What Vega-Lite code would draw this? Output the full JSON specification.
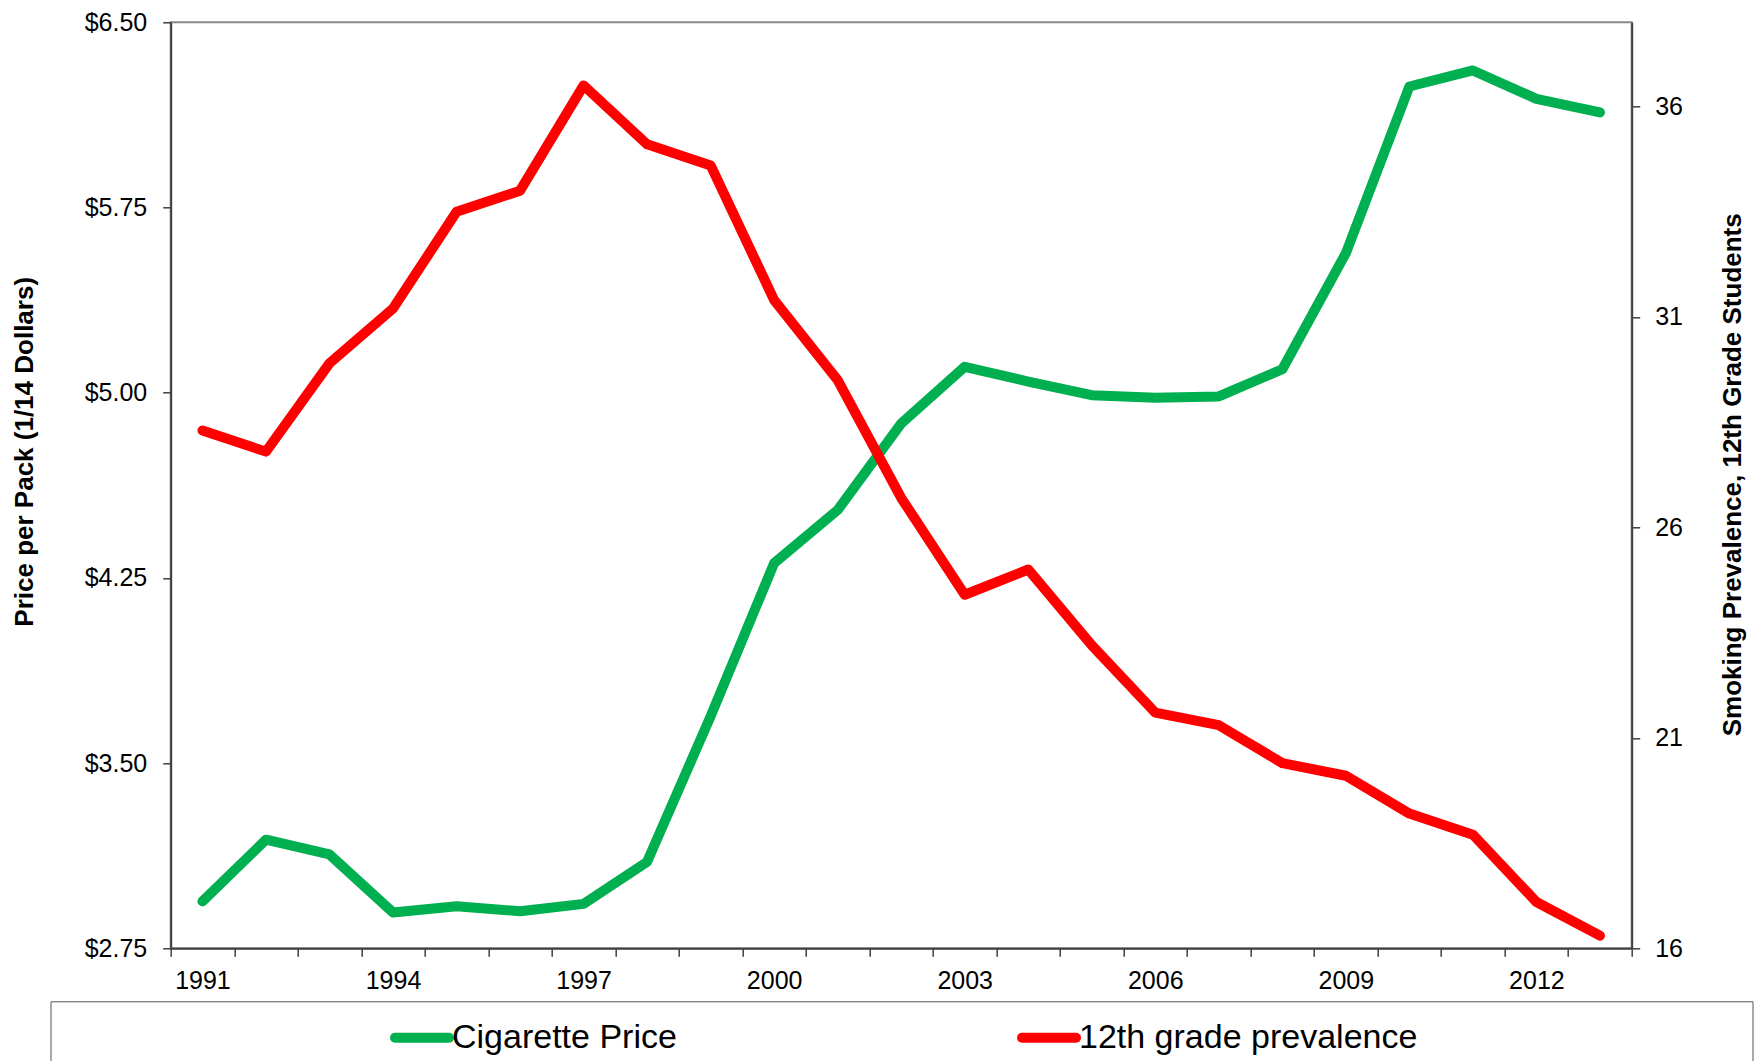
{
  "$schema": "https://vega.github.io/schema/vega-lite/v6.json",
  "width": 1461,
  "height": 926,
  "autosize": {"type": "none"},
  "padding": {"left": 170.7, "top": 22.3, "right": 127.3, "bottom": 112.7},
  "background": "white",
  "data": {
    "values": [
      {"year": 1991, "price": 2.94, "prevalence": 28.3},
      {"year": 1992, "price": 3.19, "prevalence": 27.8},
      {"year": 1993, "price": 3.13, "prevalence": 29.9},
      {"year": 1994, "price": 2.895, "prevalence": 31.2},
      {"year": 1995, "price": 2.92, "prevalence": 33.5},
      {"year": 1996, "price": 2.9, "prevalence": 34.0},
      {"year": 1997, "price": 2.93, "prevalence": 36.5},
      {"year": 1998, "price": 3.1, "prevalence": 35.1},
      {"year": 1999, "price": 3.69, "prevalence": 34.6},
      {"year": 2000, "price": 4.31, "prevalence": 31.4},
      {"year": 2001, "price": 4.525, "prevalence": 29.5},
      {"year": 2002, "price": 4.875, "prevalence": 26.7},
      {"year": 2003, "price": 5.105, "prevalence": 24.4},
      {"year": 2004, "price": 5.045, "prevalence": 25.0},
      {"year": 2005, "price": 4.99, "prevalence": 23.2},
      {"year": 2006, "price": 4.98, "prevalence": 21.6},
      {"year": 2007, "price": 4.985, "prevalence": 21.3},
      {"year": 2008, "price": 5.095, "prevalence": 20.4},
      {"year": 2009, "price": 5.565, "prevalence": 20.1},
      {"year": 2010, "price": 6.24, "prevalence": 19.2},
      {"year": 2011, "price": 6.305, "prevalence": 18.7},
      {"year": 2012, "price": 6.19, "prevalence": 17.1},
      {"year": 2013, "price": 6.135, "prevalence": 16.3}
    ]
  },
  "config": {
    "font": "Liberation Sans",
    "view": {"stroke": "#888888", "strokeWidth": 2},
    "axis": {
      "grid": false,
      "domainColor": "#404040",
      "domainWidth": 2,
      "tickColor": "#404040",
      "tickWidth": 1.5,
      "tickSize": 8,
      "labelColor": "#000000",
      "labelFont": "Liberation Sans",
      "labelFontSize": 25,
      "titleColor": "#000000",
      "titleFont": "Liberation Sans",
      "titleFontSize": 26,
      "titleFontWeight": "bold"
    },
    "legend": {
      "orient": "none",
      "legendX": -120.2,
      "legendY": 979,
      "direction": "horizontal",
      "strokeColor": "#555555",
      "padding": 4.5,
      "titleOrient": "left",
      "titleFontSize": 1,
      "titlePadding": 335,
      "symbolType": "stroke",
      "symbolSize": 2916,
      "symbolStrokeWidth": 10,
      "labelFont": "Liberation Sans",
      "labelFontSize": 34,
      "labelColor": "#000000",
      "labelOffset": -2,
      "labelLimit": 3000,
      "columnPadding": 325
    }
  },
  "encoding": {
    "x": {
      "field": "year",
      "type": "quantitative",
      "scale": {"domain": [1990.5, 2013.5], "nice": false, "zero": false},
      "axis": {
        "title": null,
        "values": [1990.5, 1991.5, 1992.5, 1993.5, 1994.5, 1995.5, 1996.5, 1997.5, 1998.5, 1999.5, 2000.5, 2001.5, 2002.5, 2003.5, 2004.5, 2005.5, 2006.5, 2007.5, 2008.5, 2009.5, 2010.5, 2011.5, 2012.5, 2013.5],
        "labelExpr": "(datum.value + 0.5 - 1991) % 3 == 0 && datum.value < 2013 ? '' + (datum.value + 0.5) : ''",
        "labelOffset": 31.75,
        "labelFlush": false,
        "labelOverlap": false,
        "labelBound": false,
        "labelPadding": 12
      }
    }
  },
  "layer": [
    {
      "mark": {"type": "line", "strokeWidth": 10, "strokeCap": "round", "strokeJoin": "round"},
      "encoding": {
        "y": {
          "field": "price",
          "type": "quantitative",
          "scale": {"domain": [2.75, 6.5], "nice": false, "zero": false},
          "axis": {
            "title": "Price per Pack (1/14 Dollars)",
            "values": [2.75, 3.5, 4.25, 5, 5.75, 6.5],
            "format": "$.2f",
            "labelPadding": 16,
            "titleAngle": 270,
            "titleX": -146,
            "titleY": 429,
            "titleBaseline": "middle",
            "titleAlign": "center"
          }
        },
        "color": {
          "datum": "Cigarette Price",
          "type": "nominal",
          "scale": {"domain": ["Cigarette Price", "12th grade prevalence"], "range": ["#00B050", "#FF0000"]},
          "legend": {
            "title": "\u00a0",
            "labelExpr": "datum.label == '12th grade prevalence' ? datum.label + '\u00a0\u00a0\u00a0\u00a0\u00a0\u00a0\u00a0\u00a0\u00a0\u00a0\u00a0\u00a0\u00a0\u00a0\u00a0\u00a0\u00a0\u00a0\u00a0\u00a0\u00a0\u00a0\u00a0\u00a0\u00a0\u00a0\u00a0\u00a0\u00a0\u00a0\u00a0\u00a0\u00a0\u00a0\u00a0\u200b' : datum.label",
            "encode": {"symbols": {"update": {"strokeCap": {"value": "round"}}}}
          }
        }
      }
    },
    {
      "mark": {"type": "line", "strokeWidth": 10, "strokeCap": "round", "strokeJoin": "round"},
      "encoding": {
        "y": {
          "field": "prevalence",
          "type": "quantitative",
          "scale": {"domain": [16, 38], "nice": false, "zero": false},
          "axis": {
            "orient": "right",
            "title": "Smoking Prevalence, 12th Grade Students",
            "values": [16, 21, 26, 31, 36],
            "format": "d",
            "labelPadding": 15,
            "titleAngle": 270,
            "titleX": 101,
            "titleY": 452,
            "titleBaseline": "middle",
            "titleAlign": "center"
          }
        },
        "color": {
          "datum": "12th grade prevalence",
          "type": "nominal",
          "legend": {
            "title": "\u00a0",
            "labelExpr": "datum.label == '12th grade prevalence' ? datum.label + '\u00a0\u00a0\u00a0\u00a0\u00a0\u00a0\u00a0\u00a0\u00a0\u00a0\u00a0\u00a0\u00a0\u00a0\u00a0\u00a0\u00a0\u00a0\u00a0\u00a0\u00a0\u00a0\u00a0\u00a0\u00a0\u00a0\u00a0\u00a0\u00a0\u00a0\u00a0\u00a0\u00a0\u00a0\u00a0\u200b' : datum.label",
            "encode": {"symbols": {"update": {"strokeCap": {"value": "round"}}}}
          }
        }
      }
    }
  ],
  "resolve": {"scale": {"y": "independent"}}
}
